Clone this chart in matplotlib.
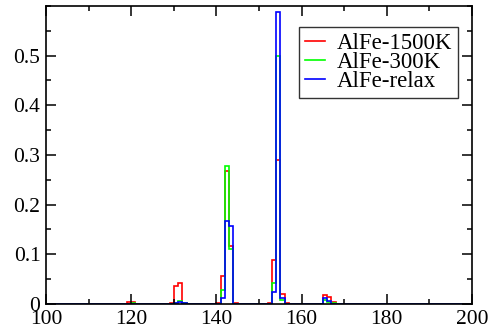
import numpy as np
import matplotlib
matplotlib.use("Agg")
import matplotlib.pyplot as plt
from matplotlib.ticker import MultipleLocator

# Non-empty histogram bins (left edge of each unit-width bin)
bins = [119, 120, 128, 129, 130, 131, 132, 140, 141, 142, 143, 144,
        152, 153, 154, 155, 156, 164, 165, 166, 167]

alfe_1500k = [0.004, 0.004, 0.000, 0.002, 0.037, 0.042, 0.003, 0.003, 0.057, 0.268, 0.116, 0.003,
              0.003, 0.088, 0.289, 0.020, 0.003, 0.000, 0.018, 0.0135, 0.005]
alfe_300k = [0.000, 0.002, 0.000, 0.000, 0.002, 0.006, 0.002, 0.000, 0.028, 0.277, 0.111, 0.000,
             0.000, 0.043, 0.500, 0.008, 0.000, 0.000, 0.008, 0.004, 0.001]
alfe_relax = [0.000, 0.000, 0.000, 0.000, 0.001, 0.004, 0.003, 0.000, 0.012, 0.167, 0.158, 0.000,
              0.000, 0.025, 0.587, 0.013, 0.000, 0.000, 0.013, 0.007, 0.000]

labels = ["AlFe-1500K", "AlFe-300K", "AlFe-relax"]
colors = ["#ff0000", "#00ff00", "#0000ff"]

x_min, x_max = 100, 200
edges = np.arange(x_min, x_max + 1)

plt.rcParams["font.family"] = ["Liberation Serif", "DejaVu Serif"]

fig = plt.figure(figsize=(4.92, 3.33), dpi=100)
ax = fig.add_axes([0.0935, 0.0871, 0.8658, 0.895])

for series, color, label in zip([alfe_1500k, alfe_300k, alfe_relax], colors, labels):
    full = np.zeros(len(edges) - 1)
    for b, v in zip(bins, series):
        full[b - x_min] = v
    ax.stairs(full, edges, color=color, linewidth=1.2, label=label)

ax.set_xlim(x_min, x_max)
ax.set_ylim(0, 0.6)

ax.xaxis.set_major_locator(MultipleLocator(20))
ax.xaxis.set_minor_locator(MultipleLocator(10))
ax.yaxis.set_minor_locator(MultipleLocator(0.05))
ax.set_yticks([0, 0.1, 0.2, 0.3, 0.4, 0.5])
ax.set_yticklabels(["0", "0.1", "0.2", "0.3", "0.4", "0.5"])

ax.tick_params(which="both", direction="in", top=True, right=True, width=1.1)
ax.tick_params(which="major", length=7, labelsize=15.5, pad=4)
ax.tick_params(which="minor", length=3.5)
for s in ax.spines.values():
    s.set_linewidth(1.2)

leg = ax.legend(loc="upper right", bbox_to_anchor=(0.967, 0.9295), borderaxespad=0,
                fontsize=16.5, frameon=True, fancybox=False, edgecolor="black",
                handlelength=0.9, handletextpad=0.5, labelspacing=-0.08,
                borderpad=0.25)
leg.get_frame().set_linewidth(1.0)

fig.savefig("out.png", dpi=100)
